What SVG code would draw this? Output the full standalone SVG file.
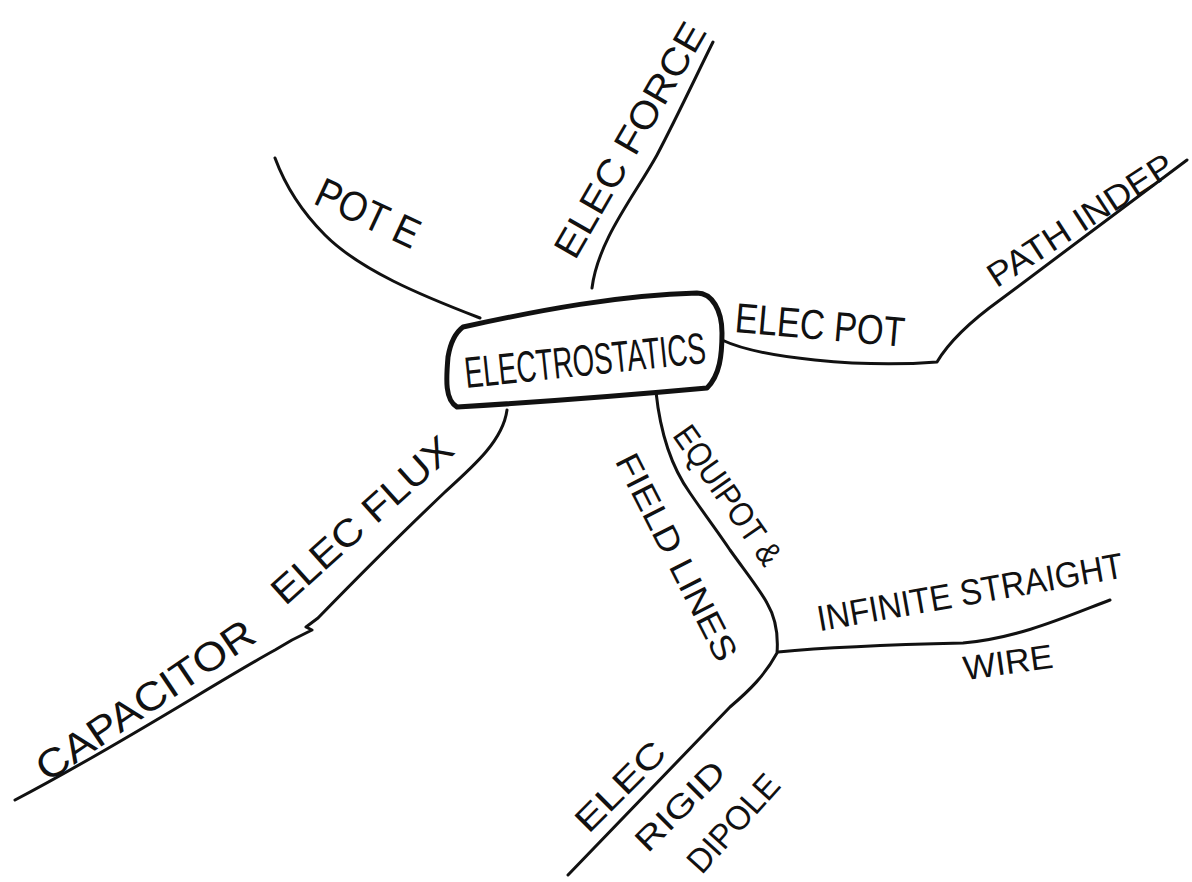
<svg xmlns="http://www.w3.org/2000/svg" width="1192" height="882" viewBox="0 0 1192 882">
<style>
.bg{fill:#ffffff}
.ln{fill:none;stroke:#111;stroke-width:3;stroke-linecap:round;stroke-linejoin:round}
.box{fill:#ffffff;stroke:#111;stroke-width:5;stroke-linejoin:round}
.t{font-family:"Liberation Sans",Arial,sans-serif;fill:#111;text-anchor:middle;dominant-baseline:central}
</style>
<rect class="bg" x="0" y="0" width="1192" height="882"/>
<g id="connectors">
<path class="ln" d="M480,318 C420,295 360,270 325,235 C300,210 285,185 275,158"/>
<path class="ln" d="M592,288 C598,240 635,195 657,155 C678,115 698,72 713,42"/>
<path class="ln" d="M722,340 C760,358 860,368 937,362 C950,340 975,318 1000,300 L1187,160"/>
<path class="ln" d="M507,410 C503,440 475,465 445,492 C405,530 355,580 318,618 L306,627 L312,630 L292,640 L275,650 C220,680 120,745 15,800"/>
<path class="ln" d="M656,392 C660,430 670,465 690,493 C705,515 718,532 730,550 C748,575 760,590 767,603 C777,620 778,640 777,653 C765,675 750,690 730,707 L568,875"/>
<path class="ln" d="M778,652 C840,646 920,644 963,643 C1020,638 1070,615 1110,600"/>
</g>
<g id="node-electrostatics">
<path class="box" d="M463,327 C540,310 620,295 697,293 C712,293 722,310 722,333 C722,355 720,375 707,388 C630,395 540,402 457,407 C445,400 446,380 448,357 C450,345 455,333 463,327 Z"/>
<text class="t" x="585" y="360" font-size="44" textLength="242" lengthAdjust="spacingAndGlyphs" transform="rotate(-6 585 360)">ELECTROSTATICS</text>
</g>
<g id="node-pot-e">
<text class="t" x="368" y="213" font-size="42" textLength="110" lengthAdjust="spacingAndGlyphs" transform="rotate(25 368 213)">POT E</text>
</g>
<g id="node-elec-force">
<text class="t" x="630" y="140" font-size="38" textLength="265" lengthAdjust="spacingAndGlyphs" transform="rotate(-60 630 140)">ELEC FORCE</text>
</g>
<g id="node-elec-pot">
<text class="t" x="820" y="325" font-size="42" textLength="170" lengthAdjust="spacingAndGlyphs" transform="rotate(5 820 325)">ELEC POT</text>
</g>
<g id="node-path-indep">
<text class="t" x="1080" y="220" font-size="34" textLength="215" lengthAdjust="spacingAndGlyphs" transform="rotate(-33 1080 220)">PATH INDEP</text>
</g>
<g id="node-elec-flux">
<text class="t" x="362" y="520" font-size="38" textLength="230" lengthAdjust="spacingAndGlyphs" transform="rotate(-42 362 520)">ELEC FLUX</text>
</g>
<g id="node-capacitor">
<text class="t" x="145" y="700" font-size="40" textLength="255" lengthAdjust="spacingAndGlyphs" transform="rotate(-34 145 700)">CAPACITOR</text>
</g>
<g id="node-equipot">
<text class="t" x="728" y="495" font-size="34" textLength="162" lengthAdjust="spacingAndGlyphs" transform="rotate(55 728 495)">EQUIPOT &amp;</text>
</g>
<g id="node-field-lines">
<text class="t" x="677" y="557" font-size="34" textLength="228" lengthAdjust="spacingAndGlyphs" transform="rotate(63 677 557)">FIELD LINES</text>
</g>
<g id="node-infinite-wire">
<text class="t" x="970" y="592" font-size="36" textLength="310" lengthAdjust="spacingAndGlyphs" transform="rotate(-10 970 592)">INFINITE STRAIGHT</text>
<text class="t" x="1008" y="662" font-size="34" textLength="90" lengthAdjust="spacingAndGlyphs" transform="rotate(-8 1008 662)">WIRE</text>
</g>
<g id="node-elec-dipole">
<text class="t" x="620" y="786" font-size="34" textLength="113" lengthAdjust="spacingAndGlyphs" transform="rotate(-45 620 786)">ELEC</text>
<text class="t" x="680" y="806" font-size="32" textLength="113" lengthAdjust="spacingAndGlyphs" transform="rotate(-45 680 806)">RIGID</text>
<text class="t" x="733" y="823" font-size="34" textLength="120" lengthAdjust="spacingAndGlyphs" transform="rotate(-48 733 823)">DIPOLE</text>
</g>
</svg>
